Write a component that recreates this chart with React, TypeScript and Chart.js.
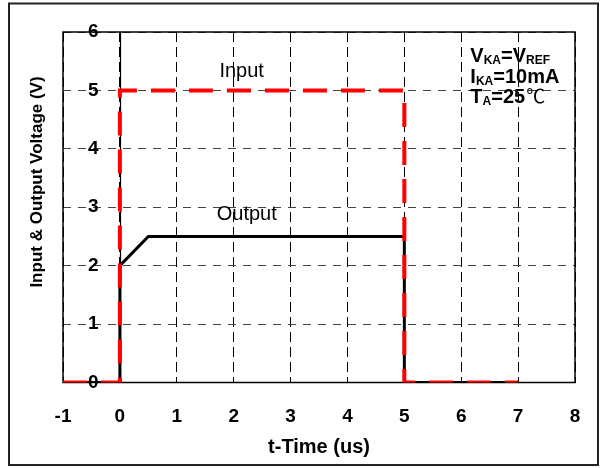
import React, { useEffect, useRef } from "react";
import { Chart, registerables } from "chart.js";

Chart.register(...registerables);

// ---- data ----
const inputX = [-1, 0, 0, 5, 5, 7];
const inputY = [0, 0, 5, 5, 0, 0];
const outputX = [-1, 0, 0, 0.5, 5, 5, 7];
const outputY = [0, 0, 2, 2.5, 2.5, 0, 0];
const xRange = [-1, 8];
const yRange = [0, 6];
const xTitle = "t-Time (us)";
const yTitle = "Input & Output Voltage (V)";
const inputLabel = "Input";
const outputLabel = "Output";

const FONT = '"Liberation Sans", Arial, Helvetica, sans-serif';

const toPoints = (xs: number[], ys: number[]) => xs.map((x, i) => ({ x, y: ys[i] }));

type Part = { t: string; sub?: boolean; cjk?: boolean };
const conditions: Part[][] = [
  [{ t: "V" }, { t: "KA", sub: true }, { t: "=V" }, { t: "REF", sub: true }],
  [{ t: "I" }, { t: "KA", sub: true }, { t: "=10mA" }],
  [{ t: "T" }, { t: "A", sub: true }, { t: "=25" }, { t: "\u2103", cjk: true }],
];

const framePlugin = {
  id: "frame",
  beforeDatasetsDraw(chart: any) {
    const { ctx, chartArea: a, scales } = chart;
    ctx.save();
    ctx.strokeStyle = "#000";
    ctx.lineWidth = 1.5;
    ctx.setLineDash([]);
    ctx.strokeRect(a.left, a.top, a.right - a.left, a.bottom - a.top);
    const x0 = Math.round(scales.x.getPixelForValue(0)) + 0.5;
    ctx.lineWidth = 1.2;
    ctx.beginPath();
    ctx.moveTo(x0, a.top);
    ctx.lineTo(x0, a.bottom);
    ctx.stroke();
    ctx.restore();
  },
  afterDraw(chart: any) {
    const { ctx, scales } = chart;
    const xs = scales.x;
    const ys = scales.y;
    ctx.save();
    // outer border
    ctx.strokeStyle = "#222";
    ctx.lineWidth = 2;
    ctx.strokeRect(9, 3.5, 589, 461.5);

    // series labels
    ctx.fillStyle = "#000";
    ctx.textAlign = "center";
    ctx.textBaseline = "middle";
    ctx.font = `20px ${FONT}`;
    ctx.fillText(inputLabel, xs.getPixelForValue(2.14), ys.getPixelForValue(5.32));
    ctx.fillText(outputLabel, xs.getPixelForValue(2.23), ys.getPixelForValue(2.87));

    // y title
    ctx.save();
    ctx.translate(37.5, 182);
    ctx.rotate(-Math.PI / 2);
    ctx.font = `bold 17px ${FONT}`;
    ctx.fillText(yTitle, 0, 0);
    ctx.restore();

    // conditions
    ctx.textAlign = "left";
    ctx.textBaseline = "alphabetic";
    const startX = xs.getPixelForValue(6.16);
    const baseVals = [5.49, 5.13, 4.79];
    conditions.forEach((line, li) => {
      let x = startX;
      const by = ys.getPixelForValue(baseVals[li]);
      line.forEach((p) => {
        if (p.sub) {
          ctx.font = `bold 12px ${FONT}`;
          ctx.fillText(p.t, x, by + 2);
        } else if (p.cjk) {
          ctx.font = `19px "Noto Sans CJK SC", "DejaVu Sans", sans-serif`;
          ctx.fillText(p.t, x + 1, by);
        } else {
          ctx.font = `bold 20px ${FONT}`;
          ctx.fillText(p.t, x, by);
        }
        x += ctx.measureText(p.t).width;
      });
    });
    ctx.restore();
  },
};

export default function App() {
  const ref = useRef<HTMLCanvasElement>(null);
  useEffect(() => {
    const chart = new Chart(ref.current as HTMLCanvasElement, {
      type: "line",
      data: {
        datasets: [
          {
            label: inputLabel,
            data: toPoints(inputX, inputY),
            borderColor: "#ff0000",
            borderWidth: 4,
            borderDash: [24, 14],
            borderCapStyle: "butt",
            borderJoinStyle: "miter",
            pointRadius: 0,
            tension: 0,
            fill: false,
          },
          {
            label: outputLabel,
            data: toPoints(outputX, outputY),
            borderColor: "#000",
            borderWidth: 3,
            borderJoinStyle: "miter",
            pointRadius: 0,
            tension: 0,
            fill: false,
          },
        ],
      },
      options: {
        responsive: false,
        animation: false,
        layout: { padding: { top: 32, right: 29, left: 0, bottom: 0 } },
        plugins: { legend: { display: false }, tooltip: { enabled: false } },
        scales: {
          x: {
            type: "linear",
            min: xRange[0],
            max: xRange[1],
            ticks: {
              stepSize: 1,
              color: "#000",
              padding: 23,
              font: { family: FONT, size: 19, weight: "bold" },
            },
            grid: { color: "#000", lineWidth: 1, drawTicks: false },
            border: { display: false, dash: [10, 5] },
            title: {
              display: true,
              text: xTitle,
              color: "#000",
              font: { family: FONT, size: 20, weight: "bold" },
              padding: { top: 0, bottom: 9 },
            },
            afterFit: (s: any) => {
              s.height = 85.5;
              s.paddingLeft = 0;
              s.paddingRight = 0;
            },
          },
          y: {
            type: "linear",
            min: yRange[0],
            max: yRange[1],
            ticks: {
              stepSize: 1,
              mirror: true,
              padding: 25,
              color: "#000",
              font: { family: FONT, size: 19, weight: "bold" },
            },
            grid: { color: "#444", lineWidth: 1, drawTicks: false },
            border: { display: false, dash: [8, 7] },
            afterFit: (s: any) => {
              s.width = 63;
              s.paddingTop = 0;
              s.paddingBottom = 0;
            },
          },
        },
      },
      plugins: [framePlugin],
    } as any);
    return () => chart.destroy();
  }, []);
  return (
    <div style={{ position: "fixed", left: 0, top: 0, width: 604, height: 468, background: "#fff" }}>
      <canvas ref={ref} width={604} height={468} style={{ display: "block" }} />
    </div>
  );
}
